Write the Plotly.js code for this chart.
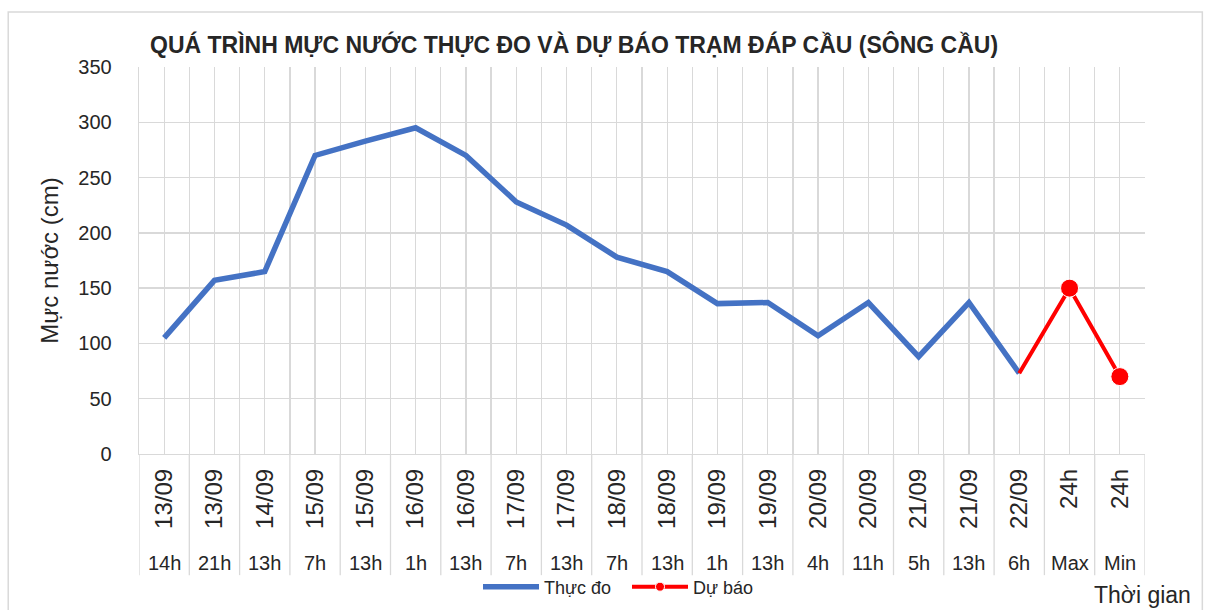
<!DOCTYPE html>
<html>
<head>
<meta charset="utf-8">
<script src="https://cdn.plot.ly/plotly-3.0.1.min.js"></script>
<style>html,body{margin:0;padding:0;background:#fff;}#chart{width:1215px;height:610px;}</style>
</head>
<body>
<div id="chart"></div>
<script>
// Category labels (two-level axis)
const dateLabels = ["13/09","13/09","14/09","15/09","15/09","16/09","16/09","17/09","17/09","18/09","18/09","19/09","19/09","20/09","20/09","21/09","21/09","22/09","24h","24h"];
const hourLabels = ["14h","21h","13h","7h","13h","1h","13h","7h","13h","7h","13h","1h","13h","4h","11h","5h","13h","6h","Max","Min"];
// Series values (cm)
const observed = [105,157,165,270,283,295,270,228,207,178,165,136,137,107,137,88,137,73,null,null];
const forecast = [null,null,null,null,null,null,null,null,null,null,null,null,null,null,null,null,null,73,150,70];

const idx = dateLabels.map((_, i) => i);
const FONT = "Liberation Sans, Arial, sans-serif";
const TXT = '#262626';

// marker sizes: no dot on the joining point, big dots on forecast values;
// sizes of empty points are never drawn and only tune the legend symbol size (mean)
const markerSizes = forecast.map((v, i) => i === 17 ? 0 : (v === null ? 8.5 : 18));

const traces = [
  {
    x: idx, y: observed, type: 'scatter', mode: 'lines', name: 'Thực đo',
    line: {color: '#4472C4', width: 5.5}, connectgaps: false
  },
  {
    x: idx, y: forecast, type: 'scatter', mode: 'lines+markers', name: 'Dự báo',
    line: {color: '#FF0000', width: 4},
    marker: {color: '#FF0000', opacity: 1, size: markerSizes}
  }
];

const shapes = [];
for (let i = -1; i < idx.length; i++) {
  shapes.push({type: 'line', xref: 'x', yref: 'paper', x0: i + 0.5, x1: i + 0.5, y0: 0, y1: -0.313,
    line: {color: '#d9d9d9', width: 1.3}});
}
shapes.push({type: 'rect', xref: 'paper', yref: 'paper', x0: -0.130, x1: 1.057, y0: -0.5, y1: 1.142,
  line: {color: '#d9d9d9', width: 1.5}});

const annotations = hourLabels.map((t, i) => ({
  x: i, xref: 'x', y: 0, yref: 'paper', yshift: -109, text: t, showarrow: false,
  xanchor: 'center', yanchor: 'middle', font: {family: FONT, size: 20, color: TXT}
}));
annotations.push({x: 1.048, xref: 'paper', y: 0, yref: 'paper', yshift: -141, text: 'Thời gian',
  showarrow: false, xanchor: 'right', yanchor: 'middle', font: {family: FONT, size: 23, color: TXT}});

const layout = {
  width: 1215, height: 610,
  margin: {l: 139, r: 70, t: 67, b: 156},
  paper_bgcolor: '#fff', plot_bgcolor: '#fff',
  title: {text: '<b>QUÁ TRÌNH MỰC NƯỚC THỰC ĐO VÀ DỰ BÁO TRẠM ĐÁP CẦU (SÔNG CẦU)</b>',
    x: 150/1215, xanchor: 'left', y: 1 - 45/610, yanchor: 'middle', yref: 'container',
    font: {family: FONT, size: 23, color: TXT}},
  xaxis: {
    automargin: false,
    range: [-0.5, idx.length - 0.5], tickmode: 'array', tickvals: idx, ticktext: dateLabels,
    tickangle: -90, tickfont: {family: FONT, size: 24, color: TXT},
    showgrid: true, gridcolor: '#d9d9d9', gridwidth: 1.3,
    minor: {tick0: 0.5, dtick: 1, showgrid: true, gridcolor: '#d9d9d9', gridwidth: 1.3},
    showline: true, linecolor: '#d9d9d9', linewidth: 1.3, zeroline: false, ticks: '', fixedrange: true,
    ticklabelstandoff: 4
  },
  yaxis: {
    automargin: false,
    range: [0, 350], tickmode: 'linear', tick0: 0, dtick: 50,
    tickfont: {family: FONT, size: 20, color: TXT},
    showgrid: true, gridcolor: '#d9d9d9', gridwidth: 1.3, zeroline: false,
    showline: true, linecolor: '#d9d9d9', linewidth: 1.3, ticks: '', ticklabelstandoff: 22,
    title: {text: 'Mực nước (cm)', font: {family: FONT, size: 24, color: TXT}, standoff: 13}
  },
  showlegend: true,
  legend: {orientation: 'h', xref: 'container', yref: 'container', x: 478/1215, xanchor: 'left',
    y: 1 - 587/610, yanchor: 'middle', itemwidth: 56, entrywidth: 78, entrywidthmode: 'pixels',
    font: {family: FONT, size: 18, color: TXT}, bgcolor: 'rgba(0,0,0,0)'},
  shapes: shapes, annotations: annotations
};

Plotly.newPlot('chart', traces, layout, {displayModeBar: false, staticPlot: true});
</script>
</body>
</html>
